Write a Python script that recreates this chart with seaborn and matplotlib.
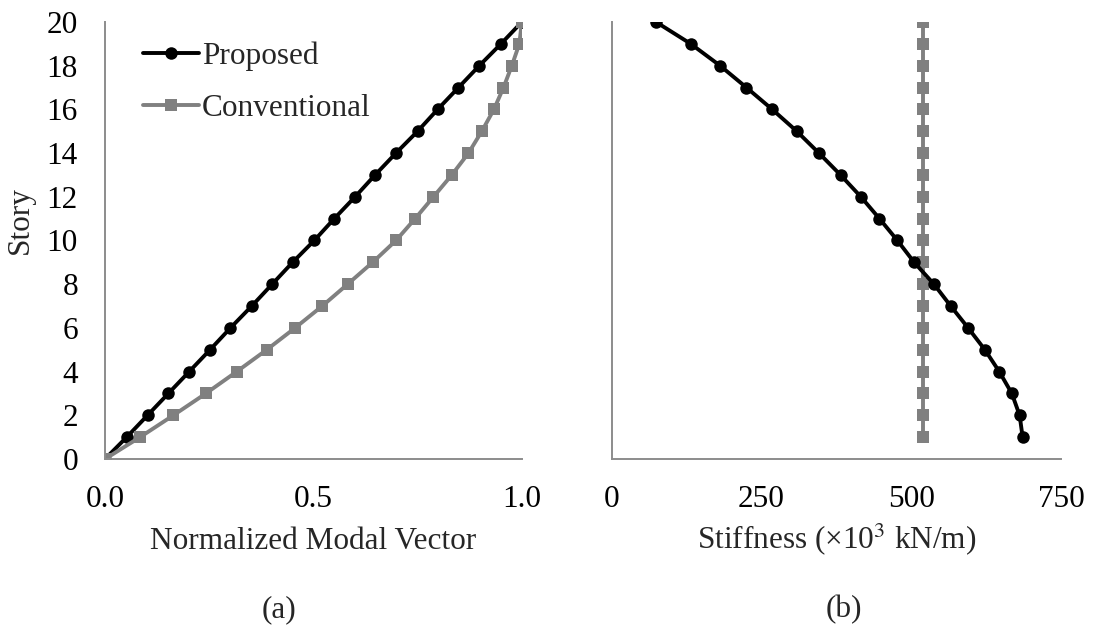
import matplotlib
matplotlib.use("Agg")
import matplotlib.pyplot as plt
import seaborn as sns
import numpy as np

stories = list(range(0, 21))
proposed_mode = [0.0, 0.052, 0.102, 0.152, 0.202, 0.252, 0.301, 0.352, 0.401, 0.450, 0.502,
                 0.550, 0.600, 0.648, 0.698, 0.750, 0.798, 0.848, 0.898, 0.950, 1.0]
conventional_mode = [0.0, 0.084, 0.164, 0.242, 0.316, 0.388, 0.456, 0.521, 0.582, 0.642, 0.698,
                     0.744, 0.788, 0.832, 0.872, 0.904, 0.933, 0.956, 0.976, 0.994, 1.0]

stiff_stories = list(range(1, 21))
proposed_stiff = [686, 681, 668, 647, 623, 595, 566, 538, 505, 477,
                  447, 416, 382, 346, 309, 268, 225, 181, 132, 74]
conventional_stiff = [520] * 20

x_ticks_a = [0.0, 0.5, 1.0]
x_ticklabels_a = ["0.0", "0.5", "1.0"]
x_ticks_b = [0, 250, 500, 750]
y_ticks = list(range(0, 21, 2))

sns.set_theme(style="white")
plt.rcParams['font.family'] = ['Liberation Serif', 'DejaVu Serif']
plt.rcParams['mathtext.fontset'] = 'stix'

FS = 22.5
GRAY = "#808080"
SPINE = "#8c8c8c"

fig = plt.figure(figsize=(10.94, 6.28), dpi=100)
axA = fig.add_axes([0.096, 0.2691, 0.381, 0.6959])
axB = fig.add_axes([0.5591, 0.2691, 0.4107, 0.6959])

lw = 2.8
sns.lineplot(x=proposed_mode, y=stories, ax=axA, sort=False, estimator=None, color="black",
             linewidth=lw, marker="o", markersize=9, markeredgewidth=0, label="Proposed")
sns.lineplot(x=conventional_mode, y=stories, ax=axA, sort=False, estimator=None, color=GRAY,
             linewidth=lw, marker="s", markersize=8, markeredgewidth=0, label="Conventional")

sns.lineplot(x=conventional_stiff, y=stiff_stories, ax=axB, sort=False, estimator=None, color=GRAY,
             linewidth=lw, marker="s", markersize=8, markeredgewidth=0)
sns.lineplot(x=proposed_stiff, y=stiff_stories, ax=axB, sort=False, estimator=None, color="black",
             linewidth=lw, marker="o", markersize=9, markeredgewidth=0)

for ax in (axA, axB):
    ax.set_ylim(0, 20)
    ax.set_yticks(y_ticks)
    for s in ("top", "right"):
        ax.spines[s].set_visible(False)
    for s in ("left", "bottom"):
        ax.spines[s].set_color(SPINE)
        ax.spines[s].set_linewidth(1.4)
    ax.tick_params(axis="both", direction="in", length=9, width=1.4, color=SPINE,
                   labelsize=FS, labelcolor="black")
    ax.tick_params(axis="x", pad=19)
    ax.set_facecolor("white")

axA.set_xlim(0, 1.0)
axA.set_xticks(x_ticks_a)
axA.set_xticklabels(x_ticklabels_a)
axA.tick_params(axis="y", pad=19.5)
axA.set_ylabel("Story", fontsize=FS)
axA.yaxis.set_label_coords(-0.168, 0.547)
axA.set_xlabel("Normalized Modal Vector", fontsize=FS)
axA.xaxis.set_label_coords(0.5, -0.155)

axB.set_xlim(0, 750)
axB.set_xticks(x_ticks_b)
axB.set_yticklabels([])
axB.set_ylabel("")
axB.set_xlabel("Stiffness (×10$^3$ kN/m)", fontsize=FS)
axB.xaxis.set_label_coords(0.5, -0.143)

leg = axA.legend(loc="upper left", bbox_to_anchor=(0.06, 0.985), frameon=False, fontsize=FS,
                 handlelength=1.8, handletextpad=0.1, labelspacing=0.75, borderaxespad=0)

fig.text(279 / 1094, 1 - 610 / 628, "(a)", fontsize=FS, ha="center", va="center")
fig.text(844 / 1094, 1 - 610 / 628, "(b)", fontsize=FS, ha="center", va="center")

fig.savefig("out.png", dpi=100, facecolor="white")
